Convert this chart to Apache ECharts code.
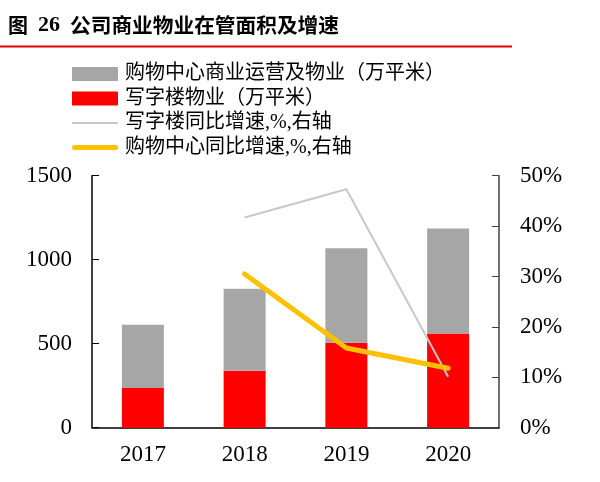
<!DOCTYPE html>
<html><head><meta charset="utf-8">
<script src="https://cdn.jsdelivr.net/npm/echarts@6/dist/echarts.min.js"></script>
<style>html,body{margin:0;padding:0;background:#fff}#c{width:600px;height:482px}</style>
</head><body><div id="c"></div>
<script>
var categories = ['2017', '2018', '2019', '2020'];
var mallArea = [377, 488, 562, 625];
var officeArea = [236, 339, 506, 560];
var officeGrowth = [null, 41.7, 47.3, 10.1];
var mallGrowth = [null, 30.5, 15.8, 11.8];
var leftTicks = [0, 500, 1000, 1500];
var rightTicks = [0, 10, 20, 30, 40, 50];

var names = ['购物中心商业运营及物业（万平米）', '写字楼物业（万平米）', '写字楼同比增速,%,右轴', '购物中心同比增速,%,右轴'];
var serif = 'Liberation Serif, Noto Sans CJK SC';
var chart = echarts.init(document.getElementById('c'));
chart.setOption({
  animation: false,
  graphic: [
    {type: 'text', left: 8, top: 15, style: {text: '图', font: 'bold 20px "Noto Sans CJK SC"', fill: '#000'}},
    {type: 'text', left: 38, top: 14, style: {text: '26', font: 'bold 22px "Liberation Serif"', fill: '#000'}},
    {type: 'text', left: 70, top: 15, style: {text: '公司商业物业在管面积及增速', font: 'bold 20.7px "Noto Sans CJK SC"', fill: '#000'}},
    {type: 'rect', shape: {x: 0, y: 45.5, width: 512, height: 2}, style: {fill: '#e60000'}}
  ],
  legend: {
    orient: 'vertical', left: 67, top: 59, itemWidth: 46, itemHeight: 14, itemGap: 4.5,
    symbolKeepAspect: true,
    textStyle: {fontSize: 20, fontFamily: serif, color: '#000', padding: [0, 0, 0, 2]},
    data: [
      {name: names[0], icon: 'rect'},
      {name: names[1], icon: 'rect'},
      {name: names[2], icon: 'path://M0,0 L46,0 L46,2 L0,2 Z'},
      {name: names[3], icon: 'path://M2.5,0 L43.5,0 A2.5,2.5 0 0 1 43.5,5 L2.5,5 A2.5,2.5 0 0 1 2.5,0 Z'}
    ]
  },
  grid: {left: 92, right: 101, top: 175.7, bottom: 54.3},
  xAxis: {
    type: 'category', data: categories,
    axisLine: {lineStyle: {color: '#000', width: 1.5}},
    axisTick: {show: false},
    axisLabel: {fontSize: 23, fontFamily: 'Liberation Serif', color: '#000', margin: 16}
  },
  yAxis: [
    {type: 'value', min: leftTicks[0], max: leftTicks[leftTicks.length - 1], interval: 500,
     axisLine: {show: true, lineStyle: {color: '#000', width: 1.5}},
     axisTick: {show: true, inside: true, length: 7, lineStyle: {color: '#000'}},
     splitLine: {show: false},
     axisLabel: {fontSize: 23, fontFamily: 'Liberation Serif', color: '#000', margin: 20,
                 formatter: function (v) { return String(v); }}},
    {type: 'value', min: rightTicks[0], max: rightTicks[rightTicks.length - 1], interval: 10,
     axisLine: {show: true, lineStyle: {color: '#404040', width: 1.5}},
     axisTick: {show: true, inside: true, length: 7, lineStyle: {color: '#404040'}},
     splitLine: {show: false},
     axisLabel: {fontSize: 23, fontFamily: 'Liberation Serif', color: '#000', margin: 21, formatter: '{value}%'}}
  ],
  series: [
    {name: names[1], type: 'bar', stack: 'a', data: officeArea, barWidth: 42, itemStyle: {color: '#ff0000'}},
    {name: names[0], type: 'bar', stack: 'a', data: mallArea, barWidth: 42, itemStyle: {color: '#a6a6a6'}},
    {name: names[2], type: 'line', yAxisIndex: 1, data: officeGrowth, symbol: 'none',
     lineStyle: {color: '#c8c8c8', width: 2}, itemStyle: {color: '#c8c8c8'}},
    {name: names[3], type: 'line', yAxisIndex: 1, data: mallGrowth, symbol: 'none',
     lineStyle: {color: '#ffc000', width: 5, cap: 'round'}, itemStyle: {color: '#ffc000'}}
  ]
});
</script></body></html>
